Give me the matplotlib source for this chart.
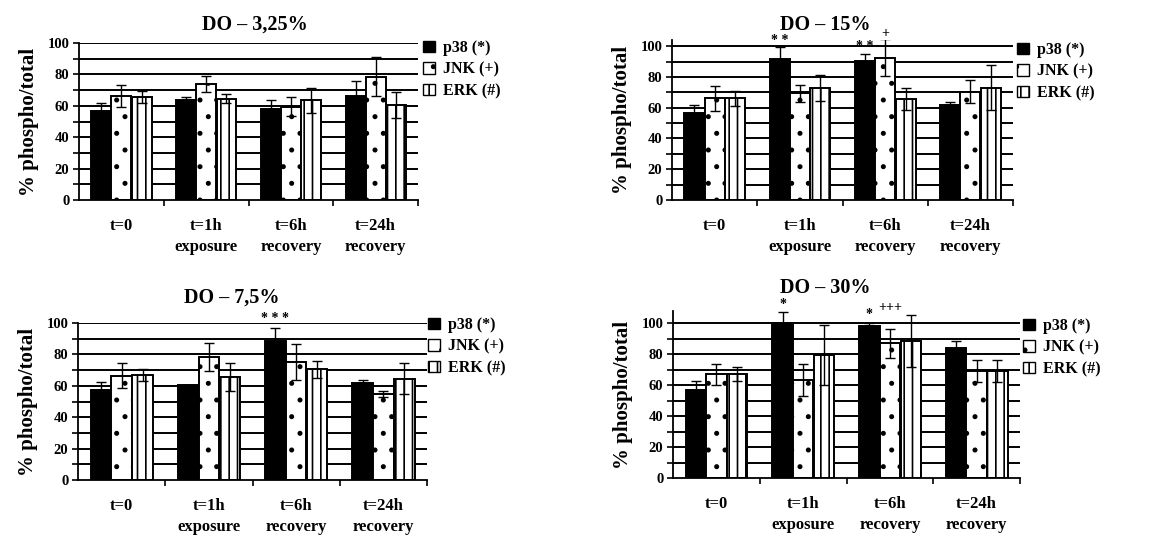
import matplotlib
matplotlib.use("Agg")
import matplotlib.pyplot as plt
from matplotlib.patches import Patch
import numpy as np

plt.rcParams['font.family'] = ['Liberation Serif', 'DejaVu Serif']
plt.rcParams['font.weight'] = 'bold'
plt.rcParams['hatch.linewidth'] = 1.2

# ---------------- data ----------------
categories = ['t=0', 't=1h\nexposure', 't=6h\nrecovery', 't=24h\nrecovery']
series_names = ['p38 (*)', 'JNK (+)', 'ERK (#)']
titles = ['DO – 3,25%', 'DO – 15%', 'DO – 7,5%', 'DO – 30%']

p38_325 = [56.5, 63.5, 58, 66.5]
jnk_325 = [66.5, 74, 59.5, 78.5]
erk_325 = [65.5, 64.5, 63.5, 60.5]
p38_325_err = [5, 2, 6, 9.5]
jnk_325_err = [7, 5, 6, 12.5]
erk_325_err = [4, 3, 8, 8.5]

p38_15 = [56.5, 91.5, 90.5, 61.5]
jnk_15 = [66, 69.5, 92.5, 70.5]
erk_15 = [66, 73, 65.5, 73]
p38_15_err = [5.5, 8, 4.5, 2]
jnk_15_err = [8, 5.5, 12, 7.5]
erk_15_err = [5, 8.5, 7, 14.5]

p38_75 = [57.5, 60.5, 88.5, 62]
jnk_75 = [66.5, 78.5, 75, 55]
erk_75 = [67, 65.5, 70.5, 64.5]
p38_75_err = [5, 0, 8.5, 2]
jnk_75_err = [8, 9, 11.5, 2]
erk_75_err = [4, 9, 5.5, 10]

p38_30 = [57, 100, 98, 84]
jnk_30 = [67, 63.5, 87, 69]
erk_30 = [67, 79.5, 88.5, 69]
p38_30_err = [5.5, 7.5, 2, 4.5]
jnk_30_err = [7, 10.5, 9.5, 7]
erk_30_err = [4.5, 19.5, 17, 7]

# significance marks: (group index, series index, text, value height)
marks_325 = []
marks_15 = [(1, 0, '* *', 103.5), (2, 0, '* *', 99.5), (2, 1, '+', 108)]
marks_75 = [(2, 0, '* * *', 103)]
marks_30 = [(1, 0, '*', 112), (2, 0, '*', 105.5), (2, 1, '+++', 110)]

panels = [
    (titles[0], [p38_325, jnk_325, erk_325], [p38_325_err, jnk_325_err, erk_325_err], marks_325),
    (titles[1], [p38_15, jnk_15, erk_15], [p38_15_err, jnk_15_err, erk_15_err], marks_15),
    (titles[2], [p38_75, jnk_75, erk_75], [p38_75_err, jnk_75_err, erk_75_err], marks_75),
    (titles[3], [p38_30, jnk_30, erk_30], [p38_30_err, jnk_30_err, erk_30_err], marks_30),
]

# ---------------- layout ----------------
W, H = 1165, 537
fig = plt.figure(figsize=(W / 100, H / 100), dpi=100)

# (left px, right px, y0 px, ytop px, ymax value, title x frac, title y frac, legend x px, legend y px)
layout = [
    (79, 418, 200, 43, 100, 0.52, 1.115, 423, 40),
    (672, 1013, 200, 40, 104, 0.45, 1.095, 1017, 42),
    (78, 427, 480, 323, 100, 0.44, 1.16, 428, 317),
    (673, 1020, 478, 311, 108, 0.44, 1.14, 1023, 318),
]

styles = [
    dict(facecolor='black', edgecolor='black', hatch=None),
    dict(facecolor='white', edgecolor='black', hatch='.'),
    dict(facecolor='white', edgecolor='black', hatch='||'),
]

x = np.arange(len(categories))
width = 0.235
offsets = [-0.237, 0.0, 0.24]

for (title, vals, errs, marks), (l, r, y0, yt, ymax, tx, ty, lx, ly) in zip(panels, layout):
    ax = fig.add_axes([l / W, 1 - y0 / H, (r - l) / W, (y0 - yt) / H])
    ax.set_xlim(-0.5, 3.5)
    ax.set_ylim(0, ymax)
    ax.set_axisbelow(True)
    for g in range(10, 101, 10):
        ax.axhline(g, color='black', lw=1.4, zorder=0)
    for s in range(3):
        ax.bar(x + offsets[s], vals[s], width, linewidth=1.4, zorder=2, **styles[s])
        ax.errorbar(x + offsets[s], vals[s], yerr=errs[s], fmt='none', ecolor='black',
                    elinewidth=1.0, capsize=3.5, capthick=1.0, zorder=3)
    for gi, si, txt, h in marks:
        ax.text(gi + offsets[si], h, txt, ha='center', va='center', fontsize=10,
                fontweight='bold', clip_on=False)
    for sp in ['top', 'right']:
        ax.spines[sp].set_visible(False)
    ax.spines['left'].set_linewidth(1.3)
    ax.spines['bottom'].set_linewidth(1.3)
    ax.set_yticks(range(0, 101, 20))
    ax.set_yticks(range(0, 101, 10), minor=True)
    ax.tick_params(axis='y', which='both', direction='out', length=4, width=1.2,
                   labelsize=10.5, pad=3)
    ax.set_xticks(x)
    ax.set_xticklabels(categories, fontsize=12, fontweight='bold', linespacing=1.45)
    ax.set_xticks([0.5, 1.5, 2.5, 3.5], minor=True)
    ax.tick_params(axis='x', which='major', length=0, pad=13)
    ax.tick_params(axis='x', which='minor', direction='out', length=4, width=1.2)
    for lab in ax.get_yticklabels():
        lab.set_fontweight('bold')
    ax.set_ylabel('% phospho/total', fontsize=15, fontweight='bold', labelpad=6)
    ax.text(tx, ty, title, transform=ax.transAxes, ha='center', va='center',
            fontsize=14.5, fontweight='bold')
    handles = [Patch(label=series_names[s], linewidth=1.0, **styles[s]) for s in range(3)]
    fig.legend(handles=handles, loc='upper left', bbox_to_anchor=(lx / W, 1 - ly / H),
               frameon=False, prop={'size': 11.5, 'weight': 'bold'},
               handlelength=0.75, handleheight=0.75, handletextpad=0.5,
               labelspacing=0.35, borderaxespad=0, borderpad=0)

fig.savefig('out.png', dpi=100)
